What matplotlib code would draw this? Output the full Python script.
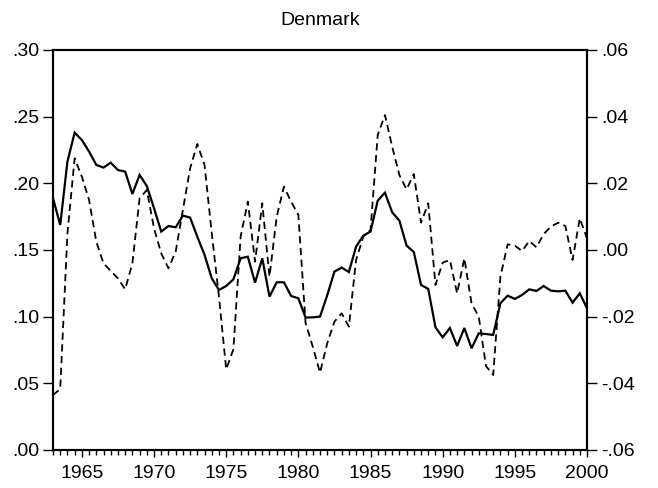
import numpy as np
import matplotlib
matplotlib.use("Agg")
import matplotlib.pyplot as plt
from matplotlib.ticker import FuncFormatter, FixedLocator

plt.rcParams['font.family'] = ['Liberation Sans', 'DejaVu Sans']

# Semi-annual observations 1963H1 .. 2000H1
start_year = 1963
n_obs = 75
periods = start_year + 0.5 * np.arange(n_obs)

# Left axis series (solid)
solid = [0.1888, 0.1688, 0.2163, 0.2380, 0.2325, 0.2238, 0.2138, 0.2118, 0.2155, 0.2100,
         0.2088, 0.1920, 0.2063, 0.1980, 0.1813, 0.1638, 0.1680, 0.1670, 0.1758, 0.1743,
         0.1600, 0.1463, 0.1288, 0.1200, 0.1230, 0.1280, 0.1438, 0.1450, 0.1255, 0.1438,
         0.1150, 0.1258, 0.1258, 0.1155, 0.1138, 0.0993, 0.0995, 0.1000, 0.1160, 0.1338,
         0.1368, 0.1335, 0.1525, 0.1608, 0.1638, 0.1870, 0.1930, 0.1783, 0.1720, 0.1533,
         0.1485, 0.1238, 0.1208, 0.0920, 0.0845, 0.0915, 0.0780, 0.0915, 0.0763, 0.0875,
         0.0870, 0.0863, 0.1100, 0.1158, 0.1133, 0.1163, 0.1205, 0.1193, 0.1230, 0.1195,
         0.1190, 0.1195, 0.1105, 0.1175, 0.1063]

# Right axis series (dashed)
dashed = [-0.0435, -0.0417, 0.0050, 0.0275, 0.0220, 0.0150, 0.0025, -0.0040, -0.0063, -0.0085,
          -0.0118, -0.0040, 0.0155, 0.0180, 0.0065, -0.0010, -0.0055, -0.0005, 0.0120, 0.0245,
          0.0318, 0.0255, 0.0050, -0.0140, -0.0358, -0.0298, 0.0040, 0.0145, -0.0035, 0.0140,
          -0.0080, 0.0100, 0.0190, 0.0145, 0.0105, -0.0219, -0.0290, -0.0368, -0.0280, -0.0215,
          -0.0190, -0.0230, -0.0030, 0.0040, 0.0060, 0.0345, 0.0405, 0.0310, 0.0225, 0.0182,
          0.0228, 0.0082, 0.0140, -0.0105, -0.0038, -0.0030, -0.0130, -0.0025, -0.0160, -0.0200,
          -0.0348, -0.0375, -0.0080, 0.0017, 0.0013, -0.0003, 0.0027, 0.0008, 0.0048, 0.0070,
          0.0082, 0.0072, -0.0030, 0.0095, 0.0035]

left_ticks = [0.00, 0.05, 0.10, 0.15, 0.20, 0.25, 0.30]
right_ticks = [-0.06, -0.04, -0.02, 0.00, 0.02, 0.04, 0.06]
year_labels = [1965, 1970, 1975, 1980, 1985, 1990, 1995, 2000]
title = "Denmark"


def dotfmt(v, pos=None):
    s = "%.2f" % v
    if s.startswith("0."):
        s = s[1:]
    elif s.startswith("-0."):
        s = "-" + s[2:]
    return s


fig = plt.figure(figsize=(6.58, 4.88), dpi=100)
ax = fig.add_axes([53 / 658, 38 / 488, 534 / 658, 400 / 488])
ax2 = ax.twinx()

ax.plot(periods, solid, color='black', lw=1.6, solid_joinstyle='miter')
ax2.plot(periods, dashed, color='black', lw=1.3, linestyle=(0, (4, 2.5)))

ax.set_xlim(periods[0], periods[-1])
ax.set_ylim(0.0, 0.30)
ax2.set_ylim(-0.06, 0.06)

ax.yaxis.set_major_locator(FixedLocator(left_ticks))
ax.yaxis.set_major_formatter(FuncFormatter(dotfmt))
ax2.yaxis.set_major_locator(FixedLocator(right_ticks))
ax2.yaxis.set_major_formatter(FuncFormatter(dotfmt))

ax.set_xticks(year_labels)
ax.set_xticklabels([str(y) for y in year_labels])
ax.set_xticks(periods, minor=True)

for a in (ax, ax2):
    for s in a.spines.values():
        s.set_linewidth(1.5)

fs = 14
ax.tick_params(axis='y', which='major', direction='out', length=7, width=1.0,
               labelsize=fs, pad=3)
ax2.tick_params(axis='y', which='major', direction='out', length=7, width=1.0,
                labelsize=fs, pad=3)
ax.tick_params(axis='x', which='major', direction='out', length=5, width=1.0,
               labelsize=fs, pad=6)
ax.tick_params(axis='x', which='minor', direction='out', length=3.5, width=1.0)

ax.set_title(title, fontsize=fs, pad=18)

fig.savefig("out.png", dpi=100)
